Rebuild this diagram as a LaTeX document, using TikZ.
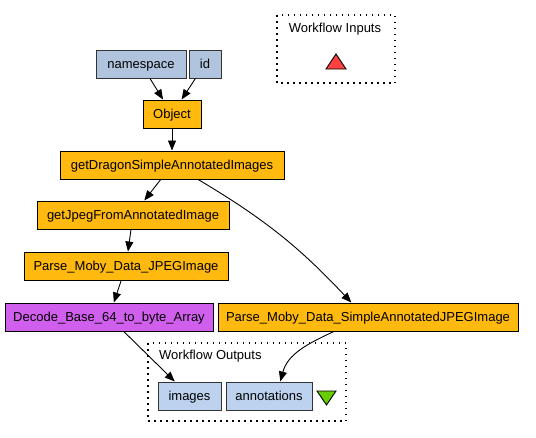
\documentclass[tikz,border=0pt]{standalone}
\usepackage{fontspec}
\setmainfont{Liberation Sans}
\usepackage{xcolor}
\usetikzlibrary{arrows.meta}
\definecolor{procorange}{HTML}{FFB90F}
\definecolor{procpurple}{HTML}{D15FEE}
\definecolor{inblue}{HTML}{B0C4DE}
\definecolor{outblue}{HTML}{BCD2EE}
\definecolor{inred}{HTML}{FF4040}
\definecolor{outgreen}{HTML}{66CD00}

\begin{document}
\begin{tikzpicture}[x=1pt,y=-1pt,
  font=\fontsize{13}{15}\selectfont,
  box/.style={draw=black,line width=1pt,minimum height=28pt,inner sep=0pt,
    text height=8.8pt,text depth=0pt,anchor=center},
  proc/.style={box,fill=procorange},
  port/.style={box,draw=black!80,fill=inblue},
  outport/.style={box,draw=black!80,fill=outblue},
  cluster/.style={line width=1.2pt,dash pattern=on 1.5pt off 4.5pt},
  link/.style={line width=0.9pt,-{Triangle[length=10pt,width=8pt]}}]
\useasboundingbox (0,0) rectangle (536,437);
\draw[cluster] (277,15) rectangle (395,83);
\node[text height=8.8pt,text depth=0pt] (inlabel) at (335,28) {Workflow Inputs};
\filldraw[fill=inred,line width=0.9pt] (336,54) -- (346,69) -- (326,69) -- cycle;
\draw[cluster] (148,343) rectangle (346,421);
\node[anchor=west,inner sep=0pt,text height=8.8pt,text depth=0pt] (outlabel) at (159,355) {Workflow Outputs};
\filldraw[fill=outgreen,line width=0.9pt] (317,391) -- (336,391) -- (326.5,405) -- cycle;
\node[port,minimum width=90pt] (namespace) at (141,64) {namespace};
\node[port,minimum width=32pt] (id) at (205,64) {id};
\node[proc,minimum width=58pt] (object) at (172,114) {Object};
\node[proc,minimum width=224pt] (getdragon) at (172,165) {getDragonSimpleAnnotatedImages};
\node[proc,minimum width=192pt] (getjpeg) at (133,215) {getJpegFromAnnotatedImage};
\node[proc,minimum width=204pt] (parsejpeg) at (126,266) {Parse\_Moby\_Data\_JPEGImage};
\node[box,fill=procpurple,minimum width=208pt] (decode) at (109,317) {Decode\_Base\_64\_to\_byte\_Array};
\node[proc,minimum width=300pt] (parsesimple) at (368,317) {Parse\_Moby\_Data\_SimpleAnnotatedJPEGImage};
\node[outport,minimum width=63pt] (images) at (189.5,396) {images};
\node[outport,minimum width=86pt] (annotations) at (269,396) {annotations};
\draw[link] (namespace) -- (object);
\draw[link] (id) -- (object);
\draw[link] (object) -- (getdragon);
\draw[link] (getdragon) -- (getjpeg);
\draw[link] (getjpeg) -- (parsejpeg);
\draw[link] (parsejpeg) -- (decode);
\draw[link] (getdragon.-29) to[bend left=8] (parsesimple.139);
\draw[link] (decode) -- (images);
\draw[link] (parsesimple.203) to[out=205,in=75] (annotations.52);
\end{tikzpicture}
\end{document}
